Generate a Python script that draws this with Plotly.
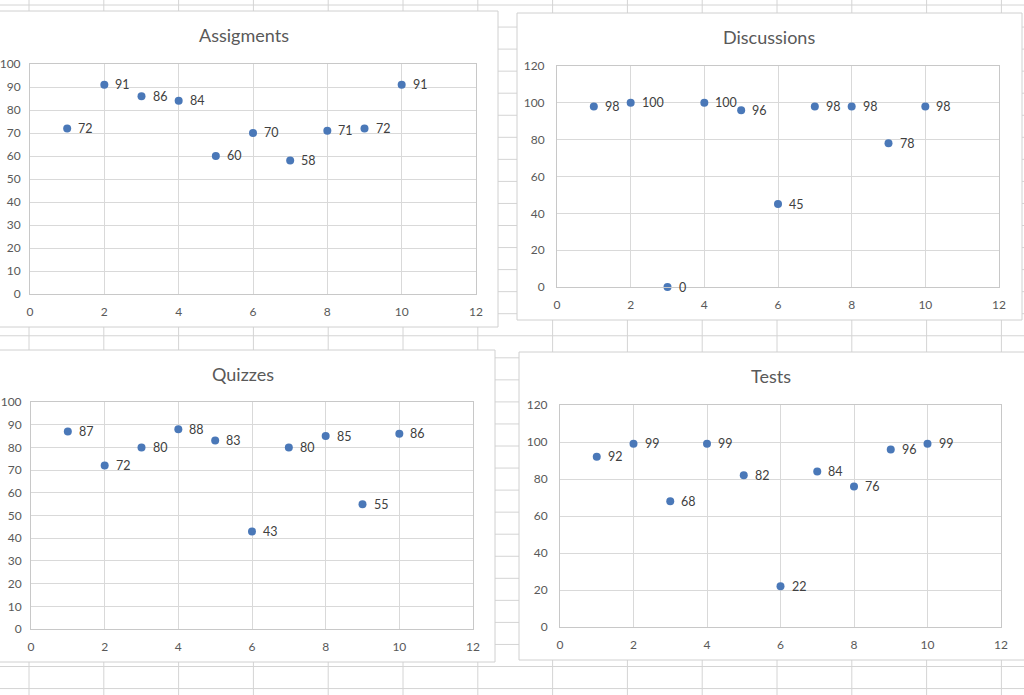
import plotly.graph_objects as go

W, H = 1024, 695

# data
weeks = [1, 2, 3, 4, 5, 6, 7, 8, 9, 10]
assignments = [72, 91, 86, 84, 60, 70, 58, 71, 72, 91]
discussions = [98, 100, 0, 100, 96, 45, 98, 98, 78, 98]
quizzes = [87, 72, 80, 88, 83, 43, 80, 85, 55, 86]
tests = [92, 99, 68, 99, 82, 22, 84, 76, 96, 99]

MARKER = "#4A78B8"
FONT = "Lato"
GRID = "#d9d9d9"


def px(x):
    return x / W


def py(y):
    return 1 - y / H


# (title, values, plot area px box, chart box px, title pos, y max, y step, y label gap)
panels = [
    ("Assigments", assignments, (30, 64, 476, 294), (-5, 11, 498, 327), (244, 35), 100, 10, 6),
    ("Discussions", discussions, (557, 66, 999, 287), (517, 13, 1022, 320), (769, 37), 120, 20, 9),
    ("Quizzes", quizzes, (31, 402, 473, 629), (-5, 350, 495, 662), (243, 374), 100, 10, 6),
    ("Tests", tests, (560, 405, 1001, 627), (519, 352, 1030, 660), (771, 376), 120, 20, 9),
]

fig = go.Figure()
shapes = []
annotations = []

# spreadsheet cell grid behind the charts
for k in range(14):
    xv = 29 + 74.8 * k
    shapes.append(dict(type="line", xref="paper", yref="paper", x0=px(xv), x1=px(xv),
                       y0=0, y1=1, line=dict(color="#d4d4d4", width=1), layer="below"))
for k in range(32):
    yv = 5 + 22.05 * k
    shapes.append(dict(type="line", xref="paper", yref="paper", x0=0, x1=1,
                       y0=py(yv), y1=py(yv), line=dict(color="#d4d4d4", width=1), layer="below"))

layout_axes = {}
for i, (title, vals, area, box, tpos, ymax, ystep, ygap) in enumerate(panels):
    n = i + 1
    xa = "x" if n == 1 else f"x{n}"
    ya = "y" if n == 1 else f"y{n}"

    # white chart box
    shapes.append(dict(type="rect", xref="paper", yref="paper",
                       x0=px(box[0]), x1=px(box[2]), y0=py(box[3]), y1=py(box[1]),
                       fillcolor="white", line=dict(color="#d0d0d0", width=1), layer="below"))

    fig.add_trace(go.Scatter(
        x=weeks, y=vals, mode="markers", xaxis=xa, yaxis=ya,
        marker=dict(color=MARKER, size=8), cliponaxis=False,
        hovertemplate=title + ": %{y}<extra></extra>",
    ))

    for xv, yv in zip(weeks, vals):
        annotations.append(dict(x=xv, y=yv, xref=xa, yref=ya, text=str(yv),
                                showarrow=False, xanchor="left", yanchor="middle",
                                xshift=9, font=dict(family=FONT, size=12.5, color="#404040")))

    annotations.append(dict(x=px(tpos[0]), y=py(tpos[1]), xref="paper", yref="paper",
                            text=title, showarrow=False, xanchor="center", yanchor="middle",
                            font=dict(family=FONT, size=18, color="#595959")))

    axis_common = dict(showgrid=True, gridcolor=GRID, gridwidth=1, zeroline=False,
                       showline=True, linecolor="#c8c8c8", linewidth=1, mirror=True,
                       ticks="", tickfont=dict(family=FONT, size=12, color="#595959"),
                       fixedrange=True, automargin=False)
    layout_axes["xaxis" if n == 1 else f"xaxis{n}"] = dict(
        axis_common, domain=[px(area[0]), px(area[2])], range=[0, 12], dtick=2, tick0=0,
        anchor=ya, ticklabelstandoff=7)
    layout_axes["yaxis" if n == 1 else f"yaxis{n}"] = dict(
        axis_common, domain=[py(area[3]), py(area[1])], range=[0, ymax], dtick=ystep, tick0=0,
        anchor=xa, ticklabelstandoff=ygap)

fig.update_layout(
    width=W, height=H,
    margin=dict(l=0, r=0, t=0, b=0, pad=0, autoexpand=False),
    paper_bgcolor="white",
    plot_bgcolor="rgba(0,0,0,0)",
    showlegend=False,
    shapes=shapes,
    annotations=annotations,
    font=dict(family=FONT),
    **layout_axes,
)

# page has a default 8px body margin; drop it so the figure fills the window
fig.write_html("out.html", config={"displayModeBar": False},
               post_script="document.body.style.margin='0';document.body.style.overflow='hidden';")
